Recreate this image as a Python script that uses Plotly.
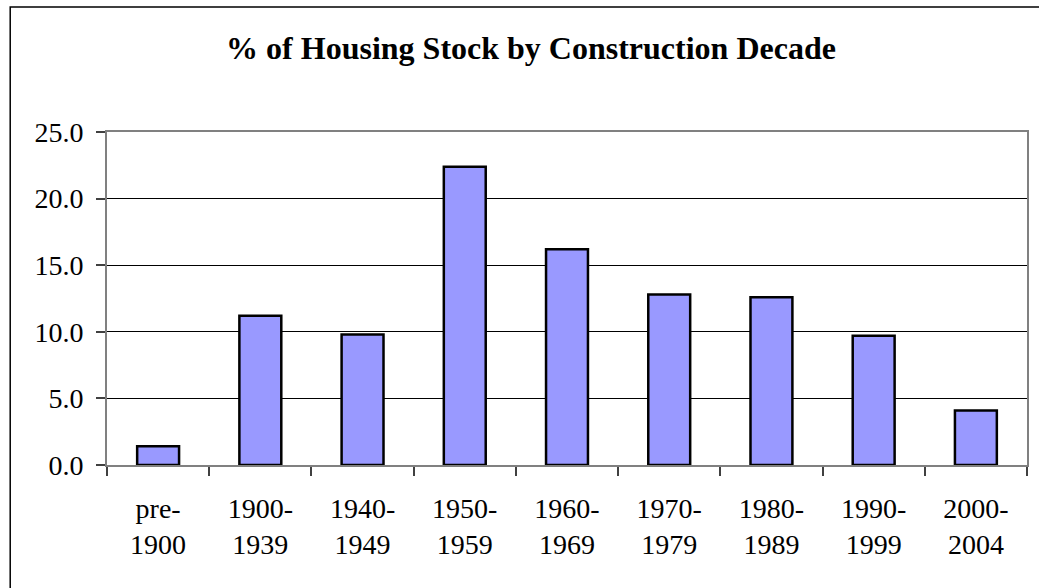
import plotly.graph_objects as go

categories = ["pre-<br>1900", "1900-<br>1939", "1940-<br>1949", "1950-<br>1959", "1960-<br>1969",
              "1970-<br>1979", "1980-<br>1989", "1990-<br>1999", "2000-<br>2004"]
values = [1.4, 11.2, 9.8, 22.4, 16.2, 12.8, 12.6, 9.7, 4.1]
y_ticks = [0, 5, 10, 15, 20, 25]
y_tick_labels = ["0.0", "5.0", "10.0", "15.0", "20.0", "25.0"]
title_text = "% of Housing Stock by Construction Decade"

W, H = 1039, 588
L, R, T, B = 107, 10, 132, 123
pw, ph = W - L - R, H - T - B

fig = go.Figure(go.Bar(
    x=categories, y=values,
    marker=dict(color="#9999FF", line=dict(color="black", width=2.5)),
))

font = "Liberation Serif, Times New Roman, serif"
fig.update_layout(
    width=W, height=H,
    margin=dict(l=L, r=R, t=T, b=B),
    paper_bgcolor="white", plot_bgcolor="white",
    bargap=0.59,
    showlegend=False,
    font=dict(family=font, color="black", size=28),
    title=dict(text="<b>" + title_text + "</b>", x=531 / W, xanchor="center",
               y=1 - 48 / H, yanchor="middle", yref="container",
               font=dict(family=font, size=32, color="black")),
    xaxis=dict(
        showline=True, linecolor="#808080", linewidth=2, mirror=True,
        ticks="outside", tickson="boundaries", ticklen=9, tickcolor="#404040", tickwidth=1.5,
        tickfont=dict(family=font, size=28, color="black"),
        ticklabelstandoff=17,
        showgrid=False,
    ),
    yaxis=dict(
        range=[0, 25], tickvals=y_ticks, ticktext=y_tick_labels,
        showline=True, linecolor="#808080", linewidth=2, mirror=True,
        ticks="outside", ticklen=9, tickcolor="#404040", tickwidth=1.5,
        showgrid=True, gridcolor="black", gridwidth=1,
        tickfont=dict(family=font, size=28, color="black"),
        ticklabelstandoff=7, zeroline=False,
    ),
    shapes=[dict(type="rect", xref="paper", yref="paper",
                 x0=(10 - L) / pw, x1=(W + 10 - L) / pw,
                 y0=-(H + 10 - (H - B)) / ph, y1=(H - B - 7) / ph,
                 line=dict(color="black", width=1.5), fillcolor="rgba(0,0,0,0)", layer="below")],
)

fig.write_html("out.html", config={"displayModeBar": False},
               post_script="document.body.style.margin='0';document.body.style.overflow='hidden';")
